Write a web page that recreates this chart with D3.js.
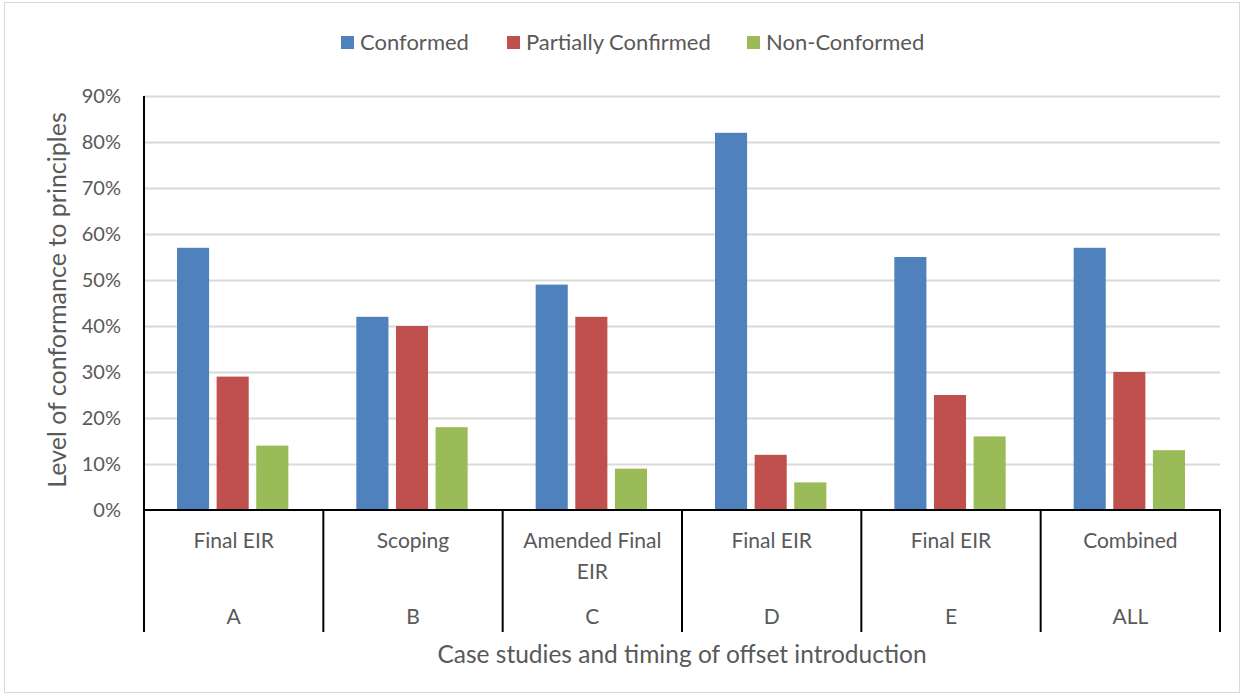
<!DOCTYPE html>
<html><head><meta charset="utf-8">
<script src="https://cdn.jsdelivr.net/npm/d3@7"></script>
<style>
body{margin:0;background:#fff;}
svg{display:block;font-family:Lato, "Open Sans", sans-serif;}
</style></head>
<body>
<svg id="chart" width="1243" height="696"></svg>
<script>
const cases = ["A","B","C","D","E","ALL"];
const timings = [["Final EIR"],["Scoping"],["Amended Final","EIR"],["Final EIR"],["Final EIR"],["Combined"]];
const seriesNames = ["Conformed","Partially Confirmed","Non-Conformed"];
const seriesColors = ["#4f81bd","#c0504d","#9bbb59"];
const conformed = [57, 42, 49, 82, 55, 57];
const partial = [29, 40, 42, 12, 25, 30];
const nonConformed = [14, 18, 9, 6, 16, 13];
const yTicks = [0,10,20,30,40,50,60,70,80,90];

const series = [conformed, partial, nonConformed];
const svg = d3.select("#chart");
const W = 1243, H = 696;
const pLeft = 144, pRight = 1220, pTop = 96, pBottom = 510;
const textColor = "#595959";

// outer border
svg.append("rect").attr("x",4.5).attr("y",2.5).attr("width",W-8).attr("height",H-6)
  .attr("fill","#fff").attr("stroke","#d9d9d9").attr("stroke-width",1);

const y = d3.scaleLinear().domain([0,90]).range([pBottom, pTop]);
const x0 = d3.scaleBand().domain(cases).range([pLeft, pRight]).paddingInner(0).paddingOuter(0);
const x1 = d3.scaleBand().domain(d3.range(3)).range([33, x0.bandwidth()-35]).paddingInner(0.19).paddingOuter(0);

// gridlines
svg.append("g").selectAll("line").data(yTicks.filter(d=>d>0)).join("line")
  .attr("x1",pLeft).attr("x2",pRight)
  .attr("y1",d=>Math.round(y(d))+0.5).attr("y2",d=>Math.round(y(d))+0.5)
  .attr("stroke","#d9d9d9").attr("stroke-width",2);

// y axis labels
const yAxis = d3.axisLeft(y).tickValues(yTicks).tickFormat(d=>d+"%").tickSize(0).tickPadding(23);
const ga = svg.append("g").attr("transform",`translate(${pLeft},0)`).call(yAxis);
ga.select(".domain").remove();
ga.selectAll("text").attr("fill",textColor).style("font-size","20px").style("font-family","Lato, sans-serif");

// bars
const groups = svg.append("g").selectAll("g").data(cases).join("g")
  .attr("transform",d=>`translate(${x0(d)},0)`);
groups.selectAll("rect").data((c,i)=>series.map((s,k)=>({k, v:s[i]}))).join("rect")
  .attr("x",d=>x1(d.k)).attr("width",x1.bandwidth())
  .attr("y",d=>y(d.v)).attr("height",d=>y(0)-y(d.v))
  .attr("fill",d=>seriesColors[d.k]);

// axes lines
svg.append("line").attr("x1",pLeft).attr("x2",pLeft).attr("y1",pTop).attr("y2",pBottom+122)
  .attr("stroke","#000").attr("stroke-width",2);
svg.append("line").attr("x1",pLeft).attr("x2",pRight+1).attr("y1",pBottom).attr("y2",pBottom)
  .attr("stroke","#000").attr("stroke-width",2);
// category dividers
svg.append("g").selectAll("line").data(cases).join("line")
  .attr("x1",d=>x0(d)+x0.bandwidth()).attr("x2",d=>x0(d)+x0.bandwidth())
  .attr("y1",pBottom).attr("y2",pBottom+122)
  .attr("stroke","#000").attr("stroke-width",2);

// category labels
const lab = svg.append("g").selectAll("g").data(cases).join("g")
  .attr("transform",d=>`translate(${x0(d)+x0.bandwidth()/2},0)`);
lab.each(function(c,i){
  const g = d3.select(this);
  timings[i].forEach((t,j)=>{
    g.append("text").attr("y",548+j*31).attr("text-anchor","middle")
      .attr("fill",textColor).style("font-size","21px").text(t);
  });
  g.append("text").attr("y",624).attr("text-anchor","middle")
    .attr("fill",textColor).style("font-size","21px").text(c);
});

// axis titles
svg.append("text").attr("x",(pLeft+pRight)/2).attr("y",663).attr("text-anchor","middle")
  .attr("fill",textColor).style("font-size","24.5px").text("Case studies and timing of offset introduction");
svg.append("text").attr("transform",`translate(66,300) rotate(-90)`)
  .attr("text-anchor","middle").attr("fill",textColor).style("font-size","25px")
  .text("Level of conformance to principles");

// legend
const legX = [341, 507, 747];
const leg = svg.append("g").selectAll("g").data(seriesNames).join("g")
  .attr("transform",(d,i)=>`translate(${legX[i]},36)`);
leg.append("rect").attr("width",13).attr("height",13).attr("fill",(d,i)=>seriesColors[i]);
leg.append("text").attr("x",19).attr("y",14).attr("fill",textColor).style("font-size","22px").text(d=>d);
</script>
</body></html>
